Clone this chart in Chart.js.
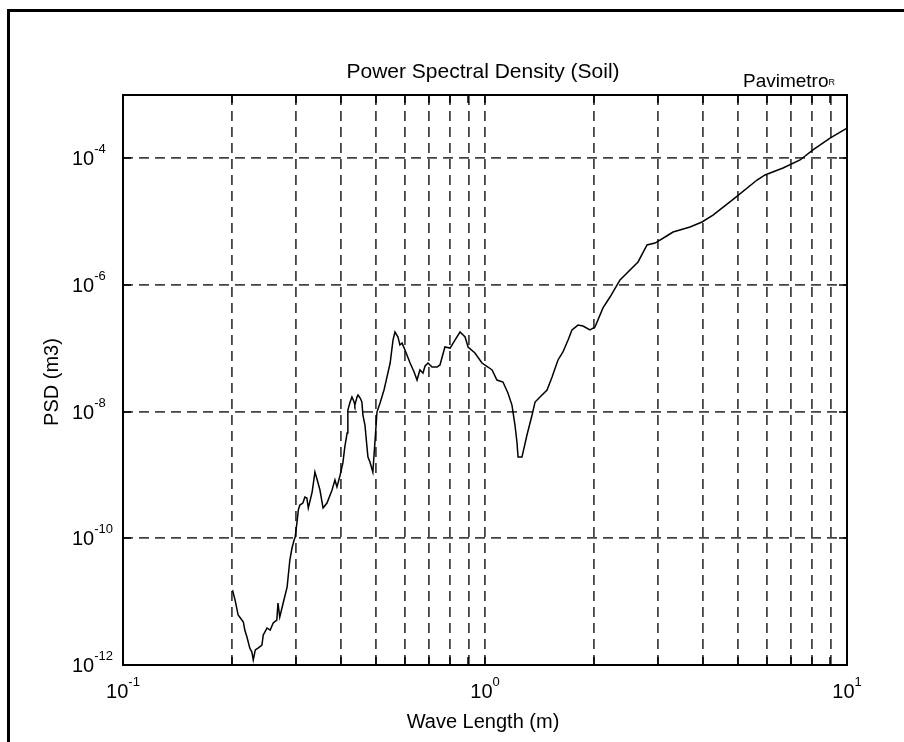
<!DOCTYPE html>
<html>
<head>
<meta charset="utf-8">
<title>Power Spectral Density (Soil)</title>
<script src="https://cdn.jsdelivr.net/npm/chart.js@4.4.1/dist/chart.umd.min.js"></script>
<style>
  html, body { margin: 0; padding: 0; background: #fff; }
  #wrap { position: relative; width: 904px; height: 742px; overflow: hidden; }
  #frame { position: absolute; left: 7px; top: 9px; right: -4px; bottom: -4px;
           border-left: 3px solid #000; border-top: 3px solid #000; }
  canvas { position: absolute; left: 0; top: 0; }
</style>
</head>
<body>
<div id="wrap">
  <div id="frame"></div>
  <canvas id="psd" width="904" height="742"></canvas>
</div>
<script>
// wave length (m) and PSD (m3) of the soil profile
const wavelength = [
  0.200, 0.201, 0.204, 0.208, 0.211, 0.215, 0.217, 0.220, 0.224, 0.227,
  0.229, 0.232, 0.236, 0.242, 0.244, 0.250, 0.255, 0.260, 0.266, 0.268,
  0.271, 0.277, 0.284, 0.289, 0.293, 0.297, 0.299, 0.303, 0.305, 0.308,
  0.314, 0.318, 0.322, 0.325, 0.333, 0.339, 0.344, 0.350, 0.357, 0.366,
  0.378, 0.385, 0.390, 0.398, 0.405, 0.410, 0.416, 0.418, 0.424, 0.429,
  0.435, 0.437, 0.443, 0.446, 0.452, 0.457, 0.460, 0.466, 0.472, 0.475,
  0.481, 0.490, 0.497, 0.503, 0.513, 0.526, 0.536, 0.547, 0.557, 0.564,
  0.575, 0.582, 0.590, 0.601, 0.621, 0.637, 0.649, 0.661, 0.674, 0.683,
  0.696, 0.714, 0.737, 0.751, 0.775, 0.801, 0.826, 0.853, 0.881, 0.898,
  0.938, 0.981, 1.019, 1.046, 1.079, 1.121, 1.157, 1.187, 1.210, 1.226,
  1.234, 1.265, 1.306, 1.349, 1.375, 1.419, 1.484, 1.532, 1.591, 1.642,
  1.696, 1.739, 1.807, 1.865, 1.950, 2.013, 2.118, 2.215, 2.360, 2.468,
  2.647, 2.803, 2.949, 3.143, 3.307, 3.685, 3.976, 4.264, 4.905, 5.643,
  5.937, 6.657, 7.419, 8.054, 8.976, 10.0
];
const psd = [
  1.42e-11, 1.47e-11, 1.06e-11, 6.15e-12, 5.52e-12, 4.78e-12, 3.56e-12, 2.77e-12, 1.85e-12, 1.60e-12,
  1.20e-12, 1.73e-12, 1.85e-12, 2.07e-12, 2.97e-12, 3.84e-12, 3.56e-12, 4.60e-12, 5.13e-12, 9.53e-12,
  5.71e-12, 9.53e-12, 1.70e-11, 4.55e-11, 7.03e-11, 9.40e-11, 1.05e-10, 1.95e-10, 2.80e-10, 3.36e-10,
  3.61e-10, 4.49e-10, 4.34e-10, 3.01e-10, 5.38e-10, 1.11e-9, 8.34e-10, 5.79e-10, 3.01e-10, 3.61e-10,
  5.79e-10, 8.34e-10, 6.46e-10, 1.00e-9, 1.55e-9, 2.77e-9, 4.60e-9, 1.06e-8, 1.42e-8, 1.70e-8,
  1.42e-8, 1.27e-8, 1.70e-8, 1.83e-8, 1.64e-8, 1.42e-8, 8.85e-9, 6.15e-9, 2.77e-9, 1.92e-9,
  1.60e-9, 1.11e-9, 3.56e-9, 9.86e-9, 1.37e-8, 2.20e-8, 3.52e-8, 5.86e-8, 1.35e-7, 1.81e-7,
  1.51e-7, 1.13e-7, 1.21e-7, 9.42e-8, 5.86e-8, 4.23e-8, 3.16e-8, 4.55e-8, 4.07e-8, 5.26e-8,
  5.86e-8, 5.07e-8, 5.07e-8, 5.46e-8, 1.05e-7, 1.01e-7, 1.35e-7, 1.81e-7, 1.51e-7, 1.05e-7,
  8.43e-8, 5.86e-8, 5.07e-8, 4.55e-8, 3.16e-8, 2.94e-8, 1.97e-8, 1.27e-8, 6.15e-9, 3.20e-9,
  1.92e-9, 1.92e-9, 4.28e-9, 8.85e-9, 1.42e-8, 1.70e-8, 2.20e-8, 3.52e-8, 6.55e-8, 8.75e-8,
  1.35e-7, 1.95e-7, 2.33e-7, 2.25e-7, 1.95e-7, 2.17e-7, 4.34e-7, 6.46e-7, 1.20e-6, 1.55e-6,
  2.31e-6, 4.28e-6, 4.60e-6, 5.73e-6, 6.87e-6, 8.24e-6, 9.88e-6, 1.27e-5, 2.37e-5, 4.55e-5,
  5.46e-5, 7.03e-5, 9.42e-5, 1.36e-4, 2.09e-4, 3.01e-4
];

// axis ranges, grid positions and labelled ticks
const xRange = [0.1, 10];
const yRange = [1e-12, 1e-3];
const xGridValues = [0.1, 0.2, 0.3, 0.4, 0.5, 0.6, 0.7, 0.8, 0.9, 1, 2, 3, 4, 5, 6, 7, 8, 9, 10];
const xLabelValues = [0.1, 1, 10];
const yTickValues = [1e-12, 1e-10, 1e-8, 1e-6, 1e-4];

const FONT = '"Liberation Sans", Arial, Helvetica, sans-serif';

// draws "10" with a raised exponent, starting at x (or centred on x)
function drawPower(ctx, value, x, y, centred) {
  const exp = String(Math.round(Math.log10(value)));
  ctx.font = '20px ' + FONT;
  const baseW = ctx.measureText('10').width;
  ctx.font = '13px ' + FONT;
  const supW = ctx.measureText(exp).width;
  const left = centred ? x - (baseW + supW) / 2 : x;
  ctx.textAlign = 'left';
  ctx.textBaseline = 'alphabetic';
  ctx.font = '20px ' + FONT;
  ctx.fillText('10', left, y);
  ctx.font = '13px ' + FONT;
  ctx.fillText(exp, left + baseW, y - 12);
}

const axesDecor = {
  id: 'axesDecor',
  afterDatasetsDraw(chart) {
    const { ctx, chartArea: a, scales: { x, y } } = chart;
    ctx.save();
    ctx.fillStyle = '#000';
    ctx.strokeStyle = '#000';

    // small inward ticks on all four sides
    ctx.lineWidth = 1.5;
    ctx.beginPath();
    xGridValues.slice(1, -1).forEach(v => {
      const px = Math.round(x.getPixelForValue(v));
      ctx.moveTo(px, a.bottom); ctx.lineTo(px, a.bottom - 8);
      ctx.moveTo(px, a.top); ctx.lineTo(px, a.top + 8);
    });
    yTickValues.slice(1).forEach(v => {
      const py = Math.round(y.getPixelForValue(v));
      ctx.moveTo(a.left, py); ctx.lineTo(a.left + 8, py);
      ctx.moveTo(a.right, py); ctx.lineTo(a.right - 8, py);
    });
    ctx.stroke();

    // axes box
    ctx.lineWidth = 2;
    ctx.strokeRect(a.left, a.top, a.right - a.left, a.bottom - a.top);

    // tick labels
    yTickValues.forEach(v => {
      drawPower(ctx, v, a.left - 51, y.getPixelForValue(v) + 7, false);
    });
    xLabelValues.forEach(v => {
      drawPower(ctx, v, x.getPixelForValue(v), a.bottom + 33, true);
    });

    // title and mark
    ctx.textBaseline = 'alphabetic';
    ctx.textAlign = 'center';
    ctx.font = '21px ' + FONT;
    ctx.fillText('Power Spectral Density (Soil)', 483, a.top - 17);

    ctx.textAlign = 'right';
    ctx.font = '9px ' + FONT;
    const rW = ctx.measureText('R').width;
    ctx.fillText('R', a.right - 12, a.top - 10);
    ctx.font = '19px ' + FONT;
    ctx.fillText('Pavimetro', a.right - 12 - rW, a.top - 8);

    // axis titles
    ctx.textAlign = 'center';
    ctx.font = '20px ' + FONT;
    ctx.fillText('Wave Length (m)', 483, a.bottom + 63);
    ctx.translate(58, 382);
    ctx.rotate(-Math.PI / 2);
    ctx.fillText('PSD (m3)', 0, 0);
    ctx.restore();
  }
};

new Chart(document.getElementById('psd'), {
  type: 'scatter',
  data: {
    datasets: [{
      label: 'PSD',
      data: wavelength.map((w, i) => ({ x: w, y: psd[i] })),
      showLine: true,
      borderColor: '#000',
      borderWidth: 1.5,
      pointRadius: 0,
      tension: 0,
      fill: false
    }]
  },
  options: {
    responsive: false,
    animation: false,
    devicePixelRatio: 1,
    layout: { padding: { left: 123, right: 57, top: 95, bottom: 77 } },
    plugins: { legend: { display: false }, tooltip: { enabled: false }, title: { display: false } },
    scales: {
      x: {
        type: 'logarithmic',
        min: xRange[0],
        max: xRange[1],
        afterBuildTicks: s => { s.ticks = xGridValues.map(v => ({ value: v })); },
        ticks: { display: false },
        grid: { color: '#444', lineWidth: 1.8, drawTicks: false },
        border: { display: false, dash: [10, 6] }
      },
      y: {
        type: 'logarithmic',
        min: yRange[0],
        max: yRange[1],
        afterBuildTicks: s => { s.ticks = yTickValues.map(v => ({ value: v })); },
        ticks: { display: false },
        grid: { color: '#444', lineWidth: 1.8, drawTicks: false },
        border: { display: false, dash: [10, 6] }
      }
    }
  },
  plugins: [axesDecor]
});
</script>
</body>
</html>
